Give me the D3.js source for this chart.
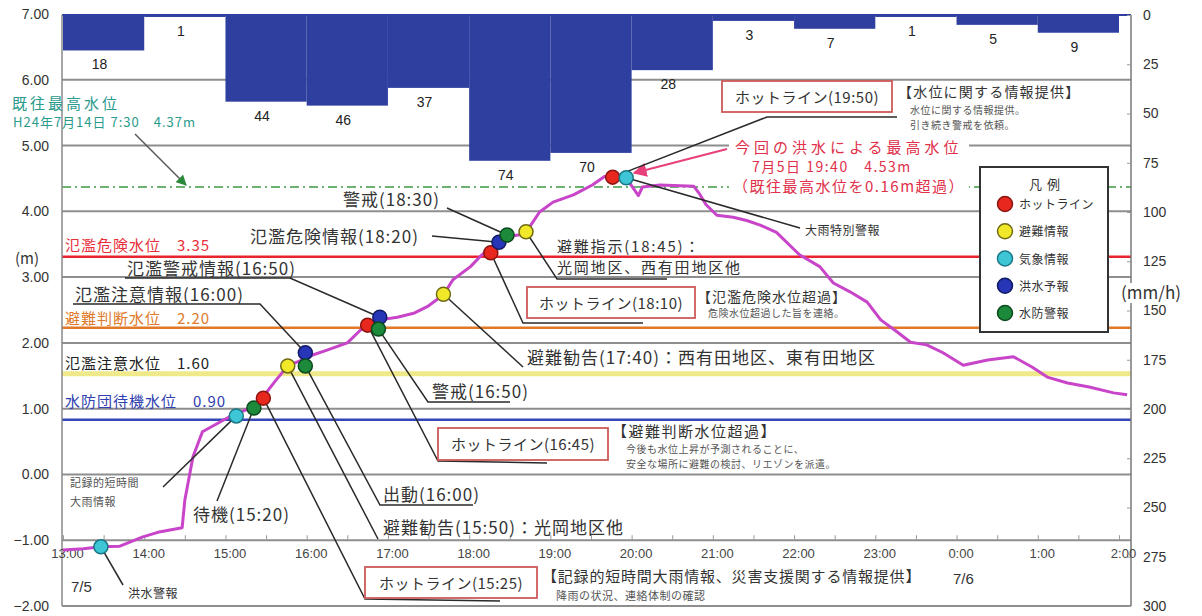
<!DOCTYPE html>
<html>
<head>
<meta charset="utf-8">
<script src="https://cdn.jsdelivr.net/npm/d3@7"></script>
<style>
  body { margin: 0; background: #fff; }
  svg { display: block; font-family: "Noto Sans CJK JP", "Noto Sans", sans-serif; }
  .num { font-family: "Liberation Sans", Arial, sans-serif; }
</style>
</head>
<body>
<svg width="1202" height="616"></svg>
<script>
// 時間雨量 (mm/h), 13:00〜翌2:00 の1時間毎
const rainStart = ['13:00','14:00','15:00','16:00','17:00','18:00','19:00','20:00','21:00','22:00','23:00','24:00','25:00']
const rainValues = [18, 1, 44, 46, 37, 74, 70, 28, 3, 7, 1, 5, 9]

// 水位 (m)  24:00以降は 7/6
const levelTimes = ['13:00','13:15','13:28','13:42','13:59','14:10','14:28','14:30','14:36','14:43','15:05','15:08',
  '15:21','15:27','15:36','15:46','15:59','16:05','16:15','16:30','16:40','16:45','16:54','17:07','17:19','17:29',
  '17:41','17:48','18:01','18:08','18:14','18:22','18:28','18:32','18:41','18:52','19:02','19:17','19:31','19:40',
  '19:46','19:56','20:05','20:08','20:21','20:46','20:50','20:55','21:03','21:15','21:25','21:35','21:47','22:04',
  '22:19','22:29','22:41','22:54','23:04','23:16','23:26','23:38','23:50','24:05','24:23','24:42','24:56','25:07',
  '25:22','25:38','25:56','26:06']
const levelValues = [-1.15,-1.13,-1.10,-1.09,-0.95,-0.88,-0.81,-0.39,0.27,0.65,0.90,0.92,
  1.03,1.16,1.40,1.65,1.76,1.82,1.89,2.00,2.20,2.27,2.35,2.39,2.45,2.55,
  2.73,2.96,3.16,3.31,3.42,3.53,3.62,3.63,3.65,3.99,4.14,4.25,4.40,4.53,
  4.52,4.51,4.24,4.37,4.40,4.38,4.27,4.10,3.94,3.91,3.86,3.79,3.68,3.34,
  3.16,2.91,2.78,2.62,2.35,2.17,2.01,1.97,1.85,1.66,1.74,1.79,1.63,1.48,
  1.39,1.33,1.24,1.21]

// 基準水位
const stageNames = ['氾濫危険水位　3.35', '避難判断水位　2.20', '氾濫注意水位　1.60', '水防団待機水位　0.90']
const stageLines = [3.31, 2.23, 1.53, 0.83]
const recordLevel = 4.37

// 情報発信
const eventTimes = ['13:28','15:08','15:21','15:28','15:46','15:59','15:59','16:45','16:54','16:53',
  '17:41','18:16','18:22','18:28','18:42','19:46','19:56']
const eventLevels = [-1.10, 0.89, 1.01, 1.16, 1.65, 1.85, 1.65, 2.27, 2.39, 2.21,
  2.74, 3.37, 3.53, 3.64, 3.69, 4.52, 4.51]
const eventKinds = ['気象情報','気象情報','水防警報','ホットライン','避難情報','洪水予報','水防警報','ホットライン','洪水予報','水防警報',
  '避難情報','ホットライン','洪水予報','水防警報','避難情報','ホットライン','気象情報']
const eventLabels = ['洪水警報', '記録的短時間\n大雨情報', '待機(15:20)', 'ホットライン(15:25)', '避難勧告(15:50)：光岡地区他',
  '氾濫注意情報(16:00)', '出動(16:00)', 'ホットライン(16:45)', '氾濫警戒情報(16:50)', '警戒(16:50)',
  '避難勧告(17:40)：西有田地区、東有田地区', 'ホットライン(18:10)', '氾濫危険情報(18:20)', '警戒(18:30)',
  '避難指示(18:45)：\n光岡地区、西有田地区他', 'ホットライン(19:50)', '大雨特別警報']

const legendKinds = ['ホットライン', '避難情報', '気象情報', '洪水予報', '水防警報']
const leftTicks = [-2, -1, 0, 1, 2, 3, 4, 5, 6, 7]
const rightTicks = [0, 25, 50, 75, 100, 125, 150, 175, 200, 225, 250, 275, 300]
const hourTicks = [13, 14, 15, 16, 17, 18, 19, 20, 21, 22, 23, 24, 25, 26]

// ---- layout / style
const kindFill = {'ホットライン':'#e8281e','避難情報':'#f2e82a','気象情報':'#3ec6d6','洪水予報':'#2636b6','水防警報':'#1c8a3a'}
const kindStroke = {'ホットライン':'#8a1410','避難情報':'#6e6a14','気象情報':'#1a7886','洪水予報':'#121a66','水防警報':'#0b4a1c'}
const stageColors = ['#e8242e', '#e07828', '#efe98a', '#3446b8']
const stageWidths = [2.5, 2.5, 5, 2.5]
const stageTextColors = ['#e8303a', '#e07a2a', '#222', '#3040b0']
const stageTextY = [251, 324, 369, 407]

const notes = [
  {x:128, y:598, fs:12, lead:[[123,585]]},
  {x:70, y:487, fs:11, lh:19, fill:'#555', lead:[[163,487]]},
  {x:193, y:521, fs:17, lead:[[217,501]]},
  {box:[365,567,172,31], fs:15, lead:[[365,599],[500,601]]},
  {x:383, y:534, fs:17, lead:[[378,539]]},
  {x:75, y:301, fs:17, lead:[[260,304],[73,304]]},
  {x:383, y:501, fs:17, lead:[[380,505],[473,505]]},
  {box:[438,428,170,32], fs:15, lead:[[438,461],[547,463]]},
  {x:127, y:275, fs:17, lead:[[290,278],[125,278]]},
  {x:432, y:398, fs:17, lead:[[428,402],[510,402]]},
  {x:527, y:364, fs:17, lead:[[523,367]]},
  {box:[527,287,168,31], fs:15, lead:[[523,323],[643,323]]},
  {x:250, y:243, fs:17, lead:[[432,236]]},
  {x:343, y:206, fs:17, lead:[[447,208]]},
  {x:557, y:252, fs:15, lh:21, ls:1.8, lead:[[557,279],[667,279]]},
  {box:[722,81,170,31], fs:15, lead:[[767,117],[897,117]]},
  {x:805, y:235, fs:12, lead:[[800,228]]}
]

const toH = s => { const [h, m] = s.split(':'); return +h + m / 60 }

const svg = d3.select('svg')
const L = 62, R = 1131, T = 15, B = 606

const x = d3.scaleLinear().domain([13, 26]).range([63, 1119])
const y = d3.scaleLinear().domain([-2, 7]).range([606, 14])
const yr = d3.scaleLinear().domain([0, 300]).range([15, 606])

// grid lines
svg.append('g').selectAll('line')
  .data(leftTicks.filter(d => d < 7))
  .join('line')
  .attr('x1', L).attr('x2', R)
  .attr('y1', d => y(d)).attr('y2', d => y(d))
  .attr('stroke', '#8e8e8e').attr('stroke-width', 2)

// stage lines
svg.append('g').selectAll('line')
  .data(stageLines)
  .join('line')
  .attr('x1', L).attr('x2', R)
  .attr('y1', d => y(d)).attr('y2', d => y(d))
  .attr('stroke', (d, i) => stageColors[i])
  .attr('stroke-width', (d, i) => stageWidths[i])

svg.append('line')
  .attr('x1', L).attr('x2', R)
  .attr('y1', y(recordLevel)).attr('y2', y(recordLevel))
  .attr('stroke', '#3c9a44').attr('stroke-width', 1.5)
  .attr('stroke-dasharray', '9,4,2,4')

// rain bars
const bw = x(14) - x(13)
svg.append('g').selectAll('rect')
  .data(rainValues)
  .join('rect')
  .attr('x', (d, i) => x(toH(rainStart[i])))
  .attr('y', T)
  .attr('width', bw)
  .attr('height', d => yr(d) - T)
  .attr('fill', '#2f3f9f')

svg.append('g').selectAll('text')
  .data(rainValues)
  .join('text')
  .attr('class', 'num')
  .attr('x', (d, i) => x(toH(rainStart[i])) + bw / 2 - 4)
  .attr('y', d => yr(d) + 19)
  .attr('text-anchor', 'middle')
  .attr('font-size', 14)
  .attr('fill', '#222')
  .text(d => d)

svg.append('line').attr('x1', L).attr('x2', R).attr('y1', T).attr('y2', T)
  .attr('stroke', '#2f3f9f').attr('stroke-width', 2)

// frame
svg.append('line').attr('x1', L).attr('x2', L).attr('y1', T).attr('y2', B).attr('stroke', '#888').attr('stroke-width', 1.5)
svg.append('line').attr('x1', R).attr('x2', R).attr('y1', T).attr('y2', B).attr('stroke', '#777').attr('stroke-width', 1.5)

// axes
const yAxis = d3.axisLeft(y).tickValues(leftTicks).tickFormat(d3.format('.2f')).tickSize(0).tickPadding(13)
svg.append('g').attr('transform', `translate(${L},0)`).call(yAxis)
  .call(g => g.select('.domain').remove())
  .selectAll('text').attr('class', 'num').attr('font-size', 14).attr('fill', '#333')

const rAxis = d3.axisRight(yr).tickValues(rightTicks).tickSize(-4).tickPadding(12)
svg.append('g').attr('transform', `translate(${R},0)`).call(rAxis)
  .call(g => g.select('.domain').remove())
  .call(g => g.selectAll('line').attr('stroke', '#999'))
  .selectAll('text').attr('class', 'num').attr('font-size', 14).attr('fill', '#333')

const xMinor = d3.axisBottom(x).tickValues(d3.range(13, 26.01, 0.5)).tickSize(-5).tickFormat('')
svg.append('g').attr('transform', `translate(0,${y(-1)})`).call(xMinor)
  .call(g => g.select('.domain').remove())
  .selectAll('line').attr('stroke', '#999')

const xAxis = d3.axisBottom(x).tickValues(hourTicks).tickSize(0).tickPadding(9).tickFormat(h => `${h % 24}:00`)
svg.append('g').attr('transform', `translate(4,${y(-1)})`).call(xAxis)
  .call(g => g.select('.domain').remove())
  .selectAll('text').attr('class', 'num').attr('font-size', 13).attr('fill', '#444')

// texts helper
function txt(str, px, py, o = {}) {
  const t = svg.append('text')
    .attr('x', px).attr('y', py)
    .attr('font-size', o.fs || 14)
    .attr('fill', o.fill || '#333')
    .attr('letter-spacing', o.ls == null ? 1 : o.ls)
  if (o.anchor) t.attr('text-anchor', o.anchor)
  if (o.cls) t.attr('class', o.cls)
  str.split('\n').forEach((s, i) => {
    t.append('tspan').attr('x', px).attr('y', py + i * (o.lh || 0)).text(s)
  })
  return t
}

// stage labels
stageNames.forEach((s, i) => txt(s, 65, stageTextY[i], {fs: 15, fill: stageTextColors[i]}))

txt('(m)', 15, 264, {fs: 15, fill: '#333', ls: 0})
svg.append('rect').attr('x', 1121).attr('y', 283).attr('width', 80).attr('height', 20).attr('fill', '#fff')
txt('(mm/h)', 1121, 299, {fs: 17, fill: '#333', ls: 0})

// record level note
txt('既往最高水位', 12, 109, {fs: 15, fill: '#2a9a8c', ls: 3})
txt('H24年7月14日 7:30　4.37m', 13, 127, {fs: 13, fill: '#2a9a8c', ls: 1})
svg.append('defs').html(`
  <marker id="ag" viewBox="0 0 10 10" refX="9" refY="5" markerWidth="7" markerHeight="7" orient="auto"><path d="M0,0L10,5L0,10z" fill="#2a8a3a"/></marker>
  <marker id="ar" viewBox="0 0 10 10" refX="9" refY="5" markerWidth="7" markerHeight="7" orient="auto"><path d="M0,0L10,5L0,10z" fill="#e8407a"/></marker>`)
svg.append('line').attr('x1', 135).attr('y1', 134).attr('x2', 186).attr('y2', y(recordLevel) - 2)
  .attr('stroke', '#555').attr('stroke-width', 1.5).attr('marker-end', 'url(#ag)')

// peak note
svg.append('rect').attr('x', 729).attr('y', 139).attr('width', 240).attr('height', 60).attr('fill', '#fff')
txt('今回の洪水による最高水位', 735, 153, {fs: 15, fill: '#e0304a', ls: 4})
txt('7月5日 19:40　4.53m', 752, 172, {fs: 14, fill: '#e0304a', ls: 1.5})
txt('（既往最高水位を0.16m超過）', 733, 192, {fs: 15, fill: '#e0304a', ls: 1.5})
svg.append('line').attr('x1', 727).attr('y1', 149).attr('x2', 634).attr('y2', 173)
  .attr('stroke', '#e8407a').attr('stroke-width', 2).attr('marker-end', 'url(#ar)')

// info notes
txt('【氾濫危険水位超過】', 697, 302, {fs: 14, fill: '#333'})
txt('危険水位超過した旨を連絡。', 708, 317, {fs: 10, fill: '#555', ls: 0.5})
txt('【避難判断水位超過】', 612, 437, {fs: 15, fill: '#333', ls: 1.5})
txt('今後も水位上昇が予測されることに、\n安全な場所に避難の検討、リエゾンを派遣。', 626, 453, {fs: 10, fill: '#555', ls: 0.5, lh: 15})
txt('【記録的短時間大雨情報、災害支援関する情報提供】', 542, 582, {fs: 15, fill: '#333', ls: 0.8})
txt('降雨の状況、連絡体制の確認', 556, 600, {fs: 11, fill: '#555', ls: 0.5})
txt('【水位に関する情報提供】', 898, 97, {fs: 14, fill: '#333', ls: 1.2})
txt('水位に関する情報提供。\n引き続き警戒を依頼。', 910, 114, {fs: 10, fill: '#555', ls: 0.5, lh: 15})
txt('7/5', 71, 592, {fs: 15, fill: '#333', ls: 0, cls: 'num'})
txt('7/6', 953, 584, {fs: 15, fill: '#333', ls: 0, cls: 'num'})

// water level line
const series = levelTimes.map((t, i) => ({h: toH(t), v: levelValues[i]}))
svg.append('path')
  .datum(series)
  .attr('fill', 'none')
  .attr('stroke', '#c844c8')
  .attr('stroke-width', 3)
  .attr('stroke-linejoin', 'round')
  .attr('d', d3.line().x(d => x(d.h)).y(d => y(d.v)))

// leaders, boxes, labels
const events = eventTimes.map((t, i) => ({h: toH(t), v: eventLevels[i], kind: eventKinds[i], label: eventLabels[i], n: notes[i]}))
events.forEach(e => {
  const pts = [[x(e.h), y(e.v)]].concat(e.n.lead)
  svg.append('path').attr('d', d3.line()(pts)).attr('fill', 'none')
    .attr('stroke', '#2a2a2a').attr('stroke-width', 1.5)
})
events.forEach(e => {
  const n = e.n
  if (n.box) {
    const [bx, by, bwid, bh] = n.box
    svg.append('rect').attr('x', bx).attr('y', by).attr('width', bwid).attr('height', bh)
      .attr('fill', '#fff').attr('stroke', '#cc5a5a').attr('stroke-width', 1.8)
    txt(e.label, bx + bwid / 2, by + bh / 2 + 6, {fs: n.fs, fill: '#333', anchor: 'middle', ls: 0.5})
  } else {
    const ls = n.ls != null ? n.ls : (n.fs >= 15 ? 1 : 0.5)
    txt(e.label, n.x, n.y, {fs: n.fs, fill: n.fill || '#333', lh: n.lh, ls})
  }
})

// markers
svg.append('g').selectAll('circle')
  .data(events)
  .join('circle')
  .attr('cx', d => x(d.h))
  .attr('cy', d => y(d.v))
  .attr('r', 7)
  .attr('fill', d => kindFill[d.kind])
  .attr('stroke', d => kindStroke[d.kind])
  .attr('stroke-width', 1.5)

// legend
const lg = svg.append('g')
lg.append('rect').attr('x', 980).attr('y', 167).attr('width', 128).attr('height', 165)
  .attr('fill', '#fff').attr('stroke', '#333').attr('stroke-width', 2)
txt('凡 例', 1045, 189, {fs: 13, fill: '#333', anchor: 'middle', ls: 1})
const ly = d3.scalePoint().domain(legendKinds).range([204, 313])
lg.selectAll('circle.k').data(legendKinds).join('circle')
  .attr('cx', 1005).attr('cy', d => ly(d)).attr('r', 7.5)
  .attr('fill', d => kindFill[d]).attr('stroke', d => kindStroke[d]).attr('stroke-width', 1.5)
legendKinds.forEach(k => txt(k, 1019, ly(k) + 5, {fs: 12, fill: '#333', ls: 0.5}))
</script>
</body>
</html>
